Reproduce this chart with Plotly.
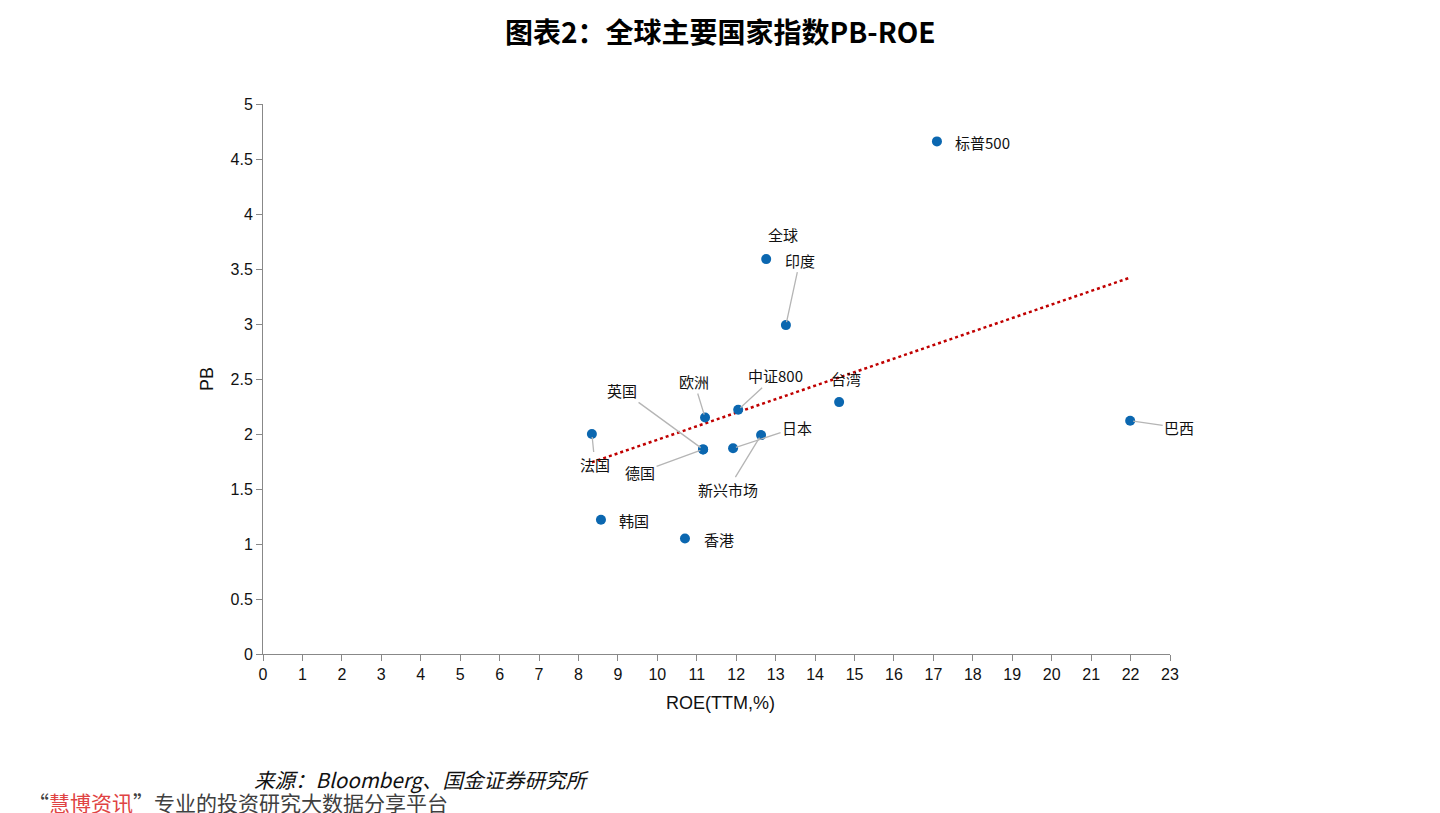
import numpy as np
import plotly.graph_objects as go

# ---- data ----
names = ["标普500", "全球", "印度", "台湾", "巴西", "中证800", "欧洲", "英国", "德国",
         "日本", "新兴市场", "法国", "韩国", "香港"]
roe = [17.09, 12.76, 13.26, 14.61, 21.99, 12.05, 11.21, 11.16, 11.16,
       11.92, 12.63, 8.34, 8.57, 10.70]
pb = [4.66, 3.59, 2.99, 2.29, 2.12, 2.22, 2.15, 1.86, 1.86,
      1.87, 1.99, 2.00, 1.22, 1.05]
x_ticks = list(range(0, 24))
y_ticks = [0, 0.5, 1, 1.5, 2, 2.5, 3, 3.5, 4, 4.5, 5]
y_tick_text = ["0", "0.5", "1", "1.5", "2", "2.5", "3", "3.5", "4", "4.5", "5"]

title_text = "图表2：全球主要国家指数PB-ROE"
x_title = "ROE(TTM,%)"
y_title = "PB"
source_text = "来源：Bloomberg、国金证券研究所"

# ---- label placement (pixel offsets: dx, dy(down), leader line?) ----
label_pos = {
    "标普500": (46, 1, False),
    "全球": (17, -25, False),
    "印度": (14, -65, True),
    "台湾": (7, -24, False),
    "巴西": (49, 7, True),
    "中证800": (37, -34, True),
    "欧洲": (-11, -36, True),
    "英国": (-81, -59, True),
    "德国": (-63, 23, True),
    "日本": (64, -21, True),
    "新兴市场": (-33, 54, True),
    "法国": (3, 30, True),
    "韩国": (33, 1, False),
    "香港": (34, 1, False),
}

CJK = "Noto Sans CJK SC, Liberation Sans, sans-serif"
NUM = "Liberation Sans, Noto Sans CJK SC, sans-serif"

fig = go.Figure()

# trendline (linear fit)
coef = np.polyfit(roe, pb, 1)
tx = np.array([min(roe), max(roe)])
ty = np.polyval(coef, tx)
fig.add_trace(go.Scatter(x=tx, y=ty, mode="lines",
                         line=dict(color="#c00000", width=2.5, dash="dot"),
                         hoverinfo="skip", showlegend=False))

fig.add_trace(go.Scatter(x=roe, y=pb, mode="markers", text=names,
                         marker=dict(color="#0b67b0", size=10),
                         showlegend=False))

annotations = []
for n, xv, yv in zip(names, roe, pb):
    dx, dy, leader = label_pos[n]
    if leader:
        annotations.append(dict(x=xv, y=yv, xref="x", yref="y", text=n,
                                showarrow=True, arrowhead=0, arrowwidth=1.3,
                                arrowcolor="#b5b5b5", ax=dx, ay=dy,
                                standoff=3,
                                font=dict(family=CJK, size=15, color="#111")))
    else:
        annotations.append(dict(x=xv, y=yv, xref="x", yref="y", text=n,
                                showarrow=False, xshift=dx, yshift=-dy,
                                font=dict(family=CJK, size=15, color="#111")))

# title
annotations.append(dict(x=0.504, y=1.1327, xref="paper", yref="paper",
                        text="<b>" + title_text + "</b>", showarrow=False,
                        xanchor="center", yanchor="middle",
                        font=dict(family=CJK, size=28, color="#000")))
# axis titles
annotations.append(dict(x=(207 - 263) / 907, y=(654 - 379) / 550, xref="paper", yref="paper",
                        text=y_title, showarrow=False, textangle=-90,
                        xanchor="center", yanchor="middle",
                        font=dict(family=NUM, size=18, color="#111")))
annotations.append(dict(x=(720 - 263) / 907, y=(654 - 703) / 550, xref="paper", yref="paper",
                        text=x_title, showarrow=False,
                        xanchor="center", yanchor="middle",
                        font=dict(family=NUM, size=18, color="#111")))
# source
annotations.append(dict(x=(252 - 263) / 907, y=(654 - 779) / 550, xref="paper", yref="paper",
                        text="<i>" + source_text + "</i>", showarrow=False,
                        xanchor="left", yanchor="middle",
                        font=dict(family=CJK, size=20.5, color="#111")))
# watermark
annotations.append(dict(x=(26 - 263) / 907, y=(654 - 802) / 550, xref="paper", yref="paper",
                        text='“<span style="color:#e04343">慧博资讯</span>”专业的投资研究大数据分享平台',
                        showarrow=False, xanchor="left", yanchor="middle",
                        font=dict(family=CJK, size=21, color="#404040")))

fig.update_layout(
    width=1440, height=813,
    margin=dict(l=263, r=270, t=104, b=159),
    paper_bgcolor="white", plot_bgcolor="white",
    annotations=annotations,
    showlegend=False,
    xaxis=dict(range=[0, 23], tickvals=x_ticks, ticktext=[str(v) for v in x_ticks],
               showgrid=False, zeroline=False, showline=True, linecolor="#888",
               linewidth=1, ticks="outside", ticklen=6, tickcolor="#888",
               tickfont=dict(family=NUM, size=16, color="#111")),
    yaxis=dict(range=[0, 5], tickvals=y_ticks, ticktext=y_tick_text,
               showgrid=False, zeroline=False, showline=True, linecolor="#888",
               linewidth=1, ticks="outside", ticklen=6, tickcolor="#888",
               tickfont=dict(family=NUM, size=16, color="#111")),
)

fig.write_html("out.html", config={"displayModeBar": False},
               post_script="document.body.style.margin='0';")
